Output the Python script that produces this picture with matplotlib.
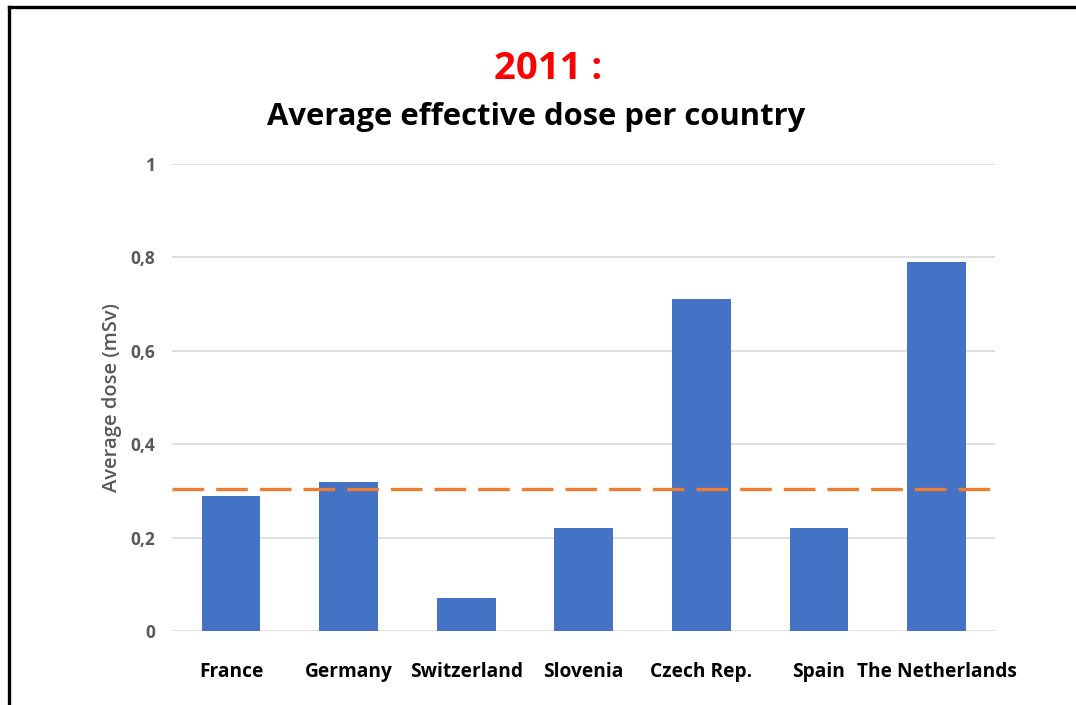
import matplotlib
matplotlib.use("Agg")
import matplotlib.pyplot as plt
from matplotlib.lines import Line2D

countries = ["France", "Germany", "Switzerland", "Slovenia", "Czech Rep.", "Spain", "The Netherlands"]
doses = [0.29, 0.32, 0.07, 0.22, 0.71, 0.22, 0.79]
reference_dose = 0.305
yticks = [0, 0.2, 0.4, 0.6, 0.8, 1]
ytick_labels = ["0", "0,2", "0,4", "0,6", "0,8", "1"]

plt.rcParams['font.family'] = ['Open Sans', 'DejaVu Sans']

fig = plt.figure(figsize=(10.76, 7.05), dpi=100)
ax = fig.add_axes([0.16, 0.105, 0.765, 0.6624])

# Bars
ax.bar(range(len(countries)), doses, width=0.5, color="#4472C4", zorder=2)

# Dashed reference line
ax.axhline(reference_dose, color="#ED7D31", linewidth=2.4, dashes=(9.5, 3.6), zorder=3)

ax.set_ylim(0, 1)
ax.set_xlim(-0.5, len(countries) - 0.5)
ax.set_yticks(yticks)
ax.set_yticklabels(ytick_labels)
ax.set_xticks(range(len(countries)))
ax.set_xticklabels(countries)
ax.grid(axis='y', color="#D9D9D9", linewidth=1.2, zorder=0)
for s in ax.spines.values():
    s.set_visible(False)
ax.tick_params(length=0)
ax.tick_params(axis='y', pad=12, labelsize=12.5, labelcolor="#595959")
ax.tick_params(axis='x', pad=22, labelsize=13.8)
for lab in ax.get_yticklabels() + ax.get_xticklabels():
    lab.set_fontweight('bold')
# Calibri-style label sits a bit to the right under its bar
ax.get_xticklabels()[-1].set_x(6.08)

ax.set_ylabel("Average dose (mSv)", fontsize=14.5, color="#595959", labelpad=6,
              fontweight='semibold')

# Titles
fig.text(0.509, 0.902, "2011 :", ha='center', va='center', color="#FF0000",
         fontsize=27.5, fontweight='bold')
fig.text(0.498, 0.834, "Average effective dose per country", ha='center', va='center',
         color="black", fontsize=22.3, fontweight='bold')

# Frame lines (top and left)
fig.add_artist(Line2D([0.0084, 1.0], [0.990, 0.990], color="black", linewidth=2.4,
                      transform=fig.transFigure))
fig.add_artist(Line2D([0.0084, 0.0084], [0.0, 0.990], color="black", linewidth=2.4,
                      transform=fig.transFigure))

fig.savefig("out.png", dpi=100)
